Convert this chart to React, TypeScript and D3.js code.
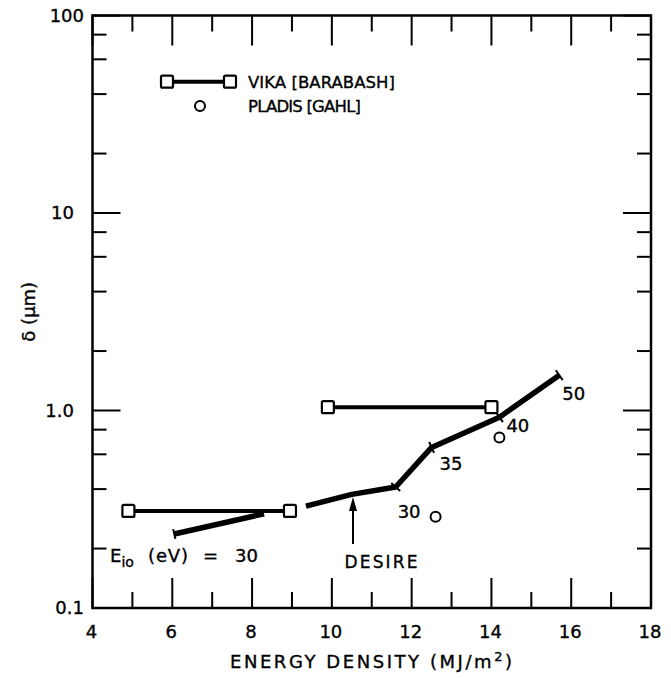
import React from "react";
import * as d3 from "d3";

// ---- data ----
const xMajorTicks = [4, 6, 8, 10, 12, 14, 16, 18];
const xMinorTicks = [5, 7, 9, 11, 13, 15, 17];
const yMajorTicks = [0.1, 1, 10, 100];
const yMajorLabels = ["0.1", "1.0", "10", "100"];
const yMinorTicks = [0.2, 0.4, 0.6, 0.8, 2, 4, 6, 8, 20, 40, 60, 80];

// VIKA [BARABASH] - two horizontal bars (energy density, delta)
const vikaLowE = [4.9, 8.95];
const vikaLowD = [0.31, 0.31];
const vikaHighE = [9.9, 14.0];
const vikaHighD = [1.04, 1.04];

// PLADIS [GAHL]
const pladisE = [12.6, 14.2];
const pladisD = [0.29, 0.73];

// DESIRE curve
const desireLowE = [8.3, 6.05];
const desireLowD = [0.3, 0.237];
const desireE = [9.35, 10.5, 11.6, 12.5, 14.2, 15.7];
const desireD = [0.328, 0.376, 0.41, 0.65, 0.925, 1.51];
const desireIonLabels = ["", "", "30", "35", "40", "50"];

// ---- layout ----
const W = 671;
const H = 678;
const X0 = 92.5;
const X1 = 651;
const Y0 = 608;
const Y1 = 15.5;
const FONT = "'DejaVu Sans', 'Liberation Sans', sans-serif";
const TS = 0.35; // text stroke to mimic heavier scan print
const labelOffsets = [
  [0, 0],
  [0, 0],
  [2, 31],
  [8, 23],
  [7, 15],
  [3, 25],
];

export default function App() {
  const x = d3.scaleLinear().domain([4, 18]).range([X0, X1]);
  const y = d3.scaleLog().domain([0.1, 100]).range([Y0, Y1]);
  const line = d3
    .line<[number, number]>()
    .x((d) => x(d[0]))
    .y((d) => y(d[1]));

  const zip = (a: number[], b: number[]) =>
    a.map((v, i) => [v, b[i]] as [number, number]);

  const vikaLow = zip(vikaLowE, vikaLowD);
  const vikaHigh = zip(vikaHighE, vikaHighD);
  const pladis = zip(pladisE, pladisD);
  const desLow = zip(desireLowE, desireLowD);
  const des = zip(desireE, desireD);

  const sq = 12;
  const square = (cx: number, cy: number, k: string) => (
    <rect
      key={k}
      x={cx - sq / 2}
      y={cy - sq / 2}
      width={sq}
      height={sq}
      rx={1.5}
      fill="white"
      stroke="black"
      strokeWidth={2.2}
    />
  );

  // perpendicular tick mark at a point along a polyline
  const perpTick = (
    p: [number, number],
    q: [number, number],
    k: string,
    len = 6
  ) => {
    const px = x(p[0]);
    const py = y(p[1]);
    const dx = x(q[0]) - px;
    const dy = y(q[1]) - py;
    const L = Math.hypot(dx, dy) || 1;
    const nx = -dy / L;
    const ny = dx / L;
    return (
      <line
        key={k}
        x1={px - nx * len}
        y1={py - ny * len}
        x2={px + nx * len}
        y2={py + ny * len}
        stroke="black"
        strokeWidth={2}
      />
    );
  };

  const tickStroke = 2;
  const txt = { stroke: "black", strokeWidth: TS, fill: "black" };

  return (
    <svg
      width={W}
      height={H}
      style={{ position: "absolute", left: 0, top: 0, background: "white" }}
      fontFamily={FONT}
    >
      <rect x={0} y={0} width={W} height={H} fill="white" />

      {/* frame */}
      <rect
        x={X0}
        y={Y1}
        width={X1 - X0}
        height={Y0 - Y1}
        fill="none"
        stroke="black"
        strokeWidth={2.5}
      />

      {/* x ticks */}
      {xMajorTicks.map((t) => (
        <g key={"xM" + t}>
          <line x1={x(t)} x2={x(t)} y1={Y0} y2={Y0 - 30} stroke="black" strokeWidth={tickStroke} />
          <line x1={x(t)} x2={x(t)} y1={Y1} y2={Y1 + 30} stroke="black" strokeWidth={tickStroke} />
          <text x={x(t) - 1} y={638} textAnchor="middle" fontSize={18} {...txt}>
            {t}
          </text>
        </g>
      ))}
      {xMinorTicks.map((t) => (
        <g key={"xm" + t}>
          <line x1={x(t)} x2={x(t)} y1={Y0} y2={Y0 - 16} stroke="black" strokeWidth={tickStroke} />
          <line x1={x(t)} x2={x(t)} y1={Y1} y2={Y1 + 16} stroke="black" strokeWidth={tickStroke} />
        </g>
      ))}

      {/* y ticks */}
      {yMajorTicks.map((t, i) => (
        <g key={"yM" + t}>
          <line x1={X0} x2={X0 + 28} y1={y(t)} y2={y(t)} stroke="black" strokeWidth={tickStroke} />
          <line x1={X1} x2={X1 - 28} y1={y(t)} y2={y(t)} stroke="black" strokeWidth={tickStroke} />
          <text
            x={i === 0 || i === yMajorTicks.length - 1 ? 84 : 74}
            y={y(t)}
            dy="0.36em"
            textAnchor="end"
            fontSize={18}
            {...txt}
          >
            {yMajorLabels[i]}
          </text>
        </g>
      ))}
      {yMinorTicks.map((t) => (
        <g key={"ym" + t}>
          <line x1={X0} x2={X0 + 14} y1={y(t)} y2={y(t)} stroke="black" strokeWidth={tickStroke} />
          <line x1={X1} x2={X1 - 14} y1={y(t)} y2={y(t)} stroke="black" strokeWidth={tickStroke} />
        </g>
      ))}

      {/* axis titles */}
      <text
        x={371}
        y={668}
        textAnchor="middle"
        fontSize={18}
        textLength={282}
        lengthAdjust="spacing"
        {...txt}
      >
        ENERGY DENSITY (MJ/m
        <tspan dy={-7} fontSize={13}>
          2
        </tspan>
        <tspan dy={7}>)</tspan>
      </text>
      <text
        transform={`translate(35, ${(Y0 + Y1) / 2}) rotate(-90)`}
        textAnchor="middle"
        fontSize={18}
        {...txt}
      >
        δ (μm)
      </text>

      {/* VIKA lines */}
      <path d={line(vikaLow) || ""} fill="none" stroke="black" strokeWidth={4} />
      <path d={line(vikaHigh) || ""} fill="none" stroke="black" strokeWidth={4} />

      {/* DESIRE curve */}
      <path d={line(desLow) || ""} fill="none" stroke="black" strokeWidth={5.5} strokeLinecap="butt" />
      {perpTick(desLow[1], desLow[0], "dt0", 5)}
      <path
        d={line(des) || ""}
        fill="none"
        stroke="black"
        strokeWidth={5.5}
        strokeLinejoin="round"
      />
      {des.map((p, i) =>
        i >= 2 ? perpTick(p, i < des.length - 1 ? des[i + 1] : des[i - 1], "dt" + i, 6) : null
      )}
      {des.map((p, i) =>
        desireIonLabels[i] ? (
          <text
            key={"dl" + i}
            x={x(p[0]) + labelOffsets[i][0]}
            y={y(p[1]) + labelOffsets[i][1]}
            fontSize={18}
            {...txt}
          >
            {desireIonLabels[i]}
          </text>
        ) : null
      )}

      {/* VIKA squares */}
      {vikaLow.map((p, i) => square(x(p[0]), y(p[1]), "vl" + i))}
      {vikaHigh.map((p, i) => square(x(p[0]), y(p[1]), "vh" + i))}

      {/* PLADIS circles */}
      {pladis.map((p, i) => (
        <circle
          key={"pc" + i}
          cx={x(p[0])}
          cy={y(p[1])}
          r={5}
          fill="white"
          stroke="black"
          strokeWidth={2}
        />
      ))}

      {/* DESIRE arrow annotation */}
      <line x1={353} y1={544} x2={353} y2={508} stroke="black" strokeWidth={2} />
      <path d="M353,497 L349,511 L357,511 Z" fill="black" />
      <text x={381} y={568} textAnchor="middle" fontSize={17} textLength={73} lengthAdjust="spacing" {...txt}>
        DESIRE
      </text>

      {/* E_io label */}
      <text y={562} fontSize={18} {...txt}>
        <tspan x={110}>E</tspan>
        <tspan dy={5} fontSize={14}>
          io
        </tspan>
        <tspan x={148} dy={-5} textLength={40} lengthAdjust="spacing">(eV)</tspan>
        <tspan x={203}>=</tspan>
        <tspan x={235}>30</tspan>
      </text>

      {/* legend */}
      <line x1={167} x2={230} y1={81.7} y2={81.7} stroke="black" strokeWidth={4} />
      {square(167, 81.7, "lg0")}
      {square(230, 81.7, "lg1")}
      <text x={248} y={88} fontSize={16.5} textLength={147} lengthAdjust="spacing" {...txt}>
        VIKA [BARABASH]
      </text>
      <circle cx={200} cy={106} r={5} fill="white" stroke="black" strokeWidth={2} />
      <text x={248} y={112} fontSize={16.5} textLength={113} lengthAdjust="spacing" {...txt}>
        PLADIS [GAHL]
      </text>
    </svg>
  );
}
